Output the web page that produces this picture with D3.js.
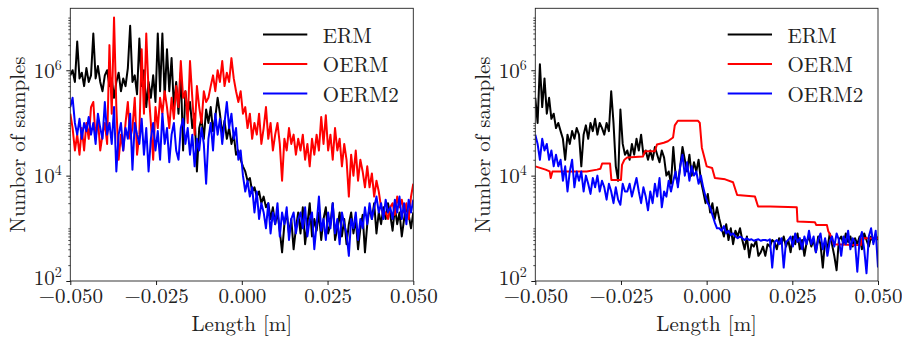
<!DOCTYPE html>
<html><head><meta charset="utf-8">
<script src="https://cdn.jsdelivr.net/npm/d3@7"></script>
<style>body{margin:0;background:#fff}svg{display:block}</style>
</head><body><svg id="c" width="902" height="341"></svg>
<script>
// ---------- data ----------
const binStart = -0.05, binEnd = 0.05, nBins = 150;
const xTicks = [-0.05, -0.025, 0, 0.025, 0.05];
const xTickLabels = ["\u22120.050", "\u22120.025", "0.000", "0.025", "0.050"];
const yMajorTicks = [1e2, 1e4, 1e6];
const seriesNames = ["ERM", "OERM", "OERM2"];
const seriesColors = ["#000000", "#ff0000", "#0000ff"];

const leftERM = [
 8e5,1e6,6e5,3.5e6,7e5,9e5,5e5,1.1e6,6e5,8e5,
 5e6,7e5,1.2e6,6e5,4e5,8e5,1e6,5e5,7e5,3e5,
 6e5,9e5,4e5,7e5,5e5,1.1e6,7e6,6e5,8e5,3.5e5,
 4e6,5e5,1e6,2e5,6e5,3e5,8e5,2.5e5,5e6,4e5,
 5e6,3e5,2.5e6,4e5,1.7e6,2e5,6e5,1.5e5,9e5,3e4,
 4e5,1.5e5,2.5e5,8e4,1.5e5,1.2e4,8e4,1.2e5,5e4,1.8e5,
 1e5,2e5,7e4,1.3e5,3e5,1.5e5,6e4,1.1e5,5e4,8e4,
 4e4,6e4,2.5e4,3e4,2e4,1.5e4,1.2e4,8e3,9e3,5e3,
 6e3,4e3,5e3,3e3,4e3,2.5e3,3e3,1.5e3,2.5e3,1.2e3,
 2e3,900,350,1.2e3,2e3,800,1.5e3,400,1e3,2e3,
 800,2.5e3,500,1.2e3,3e3,700,1.5e3,900,2e3,600,
 1.5e3,2.5e3,800,1.2e3,3e3,600,1e3,2e3,700,1.5e3,
 500,1.2e3,2e3,800,1.5e3,400,1e3,1.8e3,350,1.2e3,
 2.5e3,1.5e3,3e3,800,2e3,1.2e3,2.5e3,1.5e3,3e3,1.8e3,
 900,2.5e3,1.2e3,2e3,700,1.5e3,2.5e3,1.8e3,1e3,2e3
];
const leftOERM = [
 1.5e5,8e4,3e4,6e4,2.5e4,8e4,3e4,1e5,5e4,2e5,
 2.5e5,5e4,1.2e5,3e4,6e4,1e5,4e4,3e6,1.5e5,1e7,
 2e5,2e4,6e4,3e4,1e5,2.5e5,5e4,8e4,3e5,2.5e4,
 6e4,2.5e6,1.5e5,5e6,4e5,1e5,2e4,2e5,8e4,3e5,
 1.5e5,4e5,2e5,8e4,3e5,1.2e5,5e5,2e5,1.5e6,3e5,
 4e5,1e5,1.5e6,3e5,6e4,5e5,2e5,1e5,4e5,2.5e5,
 3e5,5e5,8e5,4e5,1e6,6e5,1.5e6,5e5,9e5,6e5,
 1.7e6,7e5,4e5,2.5e5,4e5,1.5e5,2e5,8e4,1.5e5,5e4,
 1e5,6e4,1.5e5,4e4,8e4,2e5,5e4,1e5,3e4,6e4,
 1e5,4e4,8e3,5e4,3e4,8e4,4e4,6e4,2.5e4,5e4,
 3e4,6e4,2e4,4e4,1.5e4,5e4,2.5e4,6e4,3e4,1.3e5,
 4e4,1.4e5,3e4,6e4,2e4,8e4,3e4,5e4,1.5e4,4e4,
 2e4,4e3,2.5e4,1e4,3e4,8e3,2e4,1.2e4,6e3,1.5e4,
 6e3,1.1e4,4e3,8e3,5e3,2.5e3,1.8e3,2e3,1.5e3,2.5e3,
 3e3,1.8e3,4e3,2.5e3,3.5e3,2e3,3e3,1.5e3,4e3,7e3
];
const leftOERM2 = [
 2e5,3e5,1e5,6e4,1.2e5,5e4,1e5,7e4,1.3e5,6e4,
 1e5,4e4,1.5e5,8e4,5e4,2.5e5,6e4,1e5,4e4,2e5,
 1.2e4,6e4,1e5,3e4,8e4,5e4,1.5e5,1.3e4,1e5,6e4,
 4e4,1.2e5,2.5e4,8e4,1.2e4,5e4,1e5,3e4,7e4,2e4,
 1.5e5,4e4,8e4,1.8e4,6e4,1e5,3e4,2e4,8e4,1.2e5,
 4e4,8e4,2.5e4,6e4,1.5e4,5e4,3e4,8e4,4e4,7e3,
 5e4,1e5,3e4,1.5e5,6e4,1.2e5,4e4,1e5,2.5e5,8e4,
 1.5e5,5e4,8e4,2e4,3e4,1e4,5e3,8e3,4e3,6e3,
 2e3,5e3,1.5e3,3e3,2e3,1e3,3e3,800,2e3,1.2e3,
 3e3,700,2e3,1.2e3,2.5e3,600,1.5e3,2e3,800,1.5e3,
 2e3,1e3,2.5e3,700,1.5e3,2e3,400,1.2e3,4e3,900,
 1.5e3,600,2e3,1e3,3e3,800,1.5e3,500,2e3,1.2e3,
 800,300,1.5e3,1e3,2e3,600,1.5e3,1e3,2.5e3,1.2e3,
 3e3,1.5e3,2.5e3,4e3,2e3,3e3,1.5e3,3.5e3,2e3,2.5e3,
 1.5e3,3.5e3,2e3,4e3,1.5e3,3e3,1.2e3,3.5e3,2e3,3.5e3
];
const rightERM = [
 3e5,1e5,1.3e6,2e5,7e5,1.5e5,3e5,1.2e5,1.5e5,8e4,
 1e5,7e4,5e4,2e4,6e4,4e4,7e4,5e4,8e4,6e4,
 1.5e4,6e4,9e4,5e4,1e5,7e4,1.2e5,6e4,1e5,8e4,
 6e4,1e5,7e4,4e5,1e5,1.5e4,8e3,1.8e5,4e4,2.5e4,
 3e4,2e4,4e4,2.5e4,5e4,3e4,6e4,2.5e4,3e4,2e4,
 3e4,2e4,3.5e4,2.5e4,1.8e4,3e4,2.2e4,1e4,1.2e4,7e3,
 3.5e4,1e4,7e3,1.5e4,3.5e4,2e4,1.2e4,2.5e4,1e4,1.8e4,
 1.2e4,2e4,8e3,5e3,3e3,4.5e3,2e3,3e3,1.5e3,2.5e3,
 1.5e3,1e3,700,1.2e3,600,1e3,500,900,700,1e3,
 600,400,700,280,500,450,600,300,350,450,
 300,500,450,600,550,400,650,500,700,450,
 600,350,700,500,800,400,600,300,550,700,
 450,600,350,700,500,180,600,400,800,500,
 300,160,600,700,500,800,550,700,450,650,
 500,700,400,800,600,450,700,550,750,600
];
const rightOERM2 = [
 6e4,4e4,2e4,5e4,3e4,4e4,2e4,3e4,1.5e4,2.5e4,
 1.5e4,2e4,8e3,1.5e4,5e3,1.2e4,2e4,6e3,1.2e4,8e3,
 1.2e4,5e3,1e4,7e3,4.5e3,9e3,6e3,1e4,5e3,8e3,
 6e3,3.5e3,7e3,5e3,3e3,6e3,3.5e3,2.8e3,7e3,5e3,
 5e3,7e3,4e3,6e3,9e3,5e3,3e3,6e3,4e3,2.2e3,
 5e3,3e3,7e3,4e3,9e3,2.5e3,5e3,4e3,8e3,5e3,
 8e3,1.2e4,6e3,1.5e4,2.5e4,1e4,1.8e4,8e3,1.5e4,1e4,
 1.2e4,7e3,1e4,6e3,4e3,3e3,2.5e3,1.8e3,1.3e3,1e3,
 1e3,900,1.1e3,800,900,750,800,700,650,700,
 650,600,650,600,620,580,600,620,580,600,
 600,580,620,180,550,600,500,650,180,550,
 600,700,450,800,550,650,400,700,500,900,
 500,700,350,600,800,400,650,300,550,700,
 450,800,600,300,700,500,900,400,650,550,
 150,600,850,400,140,700,1e3,500,900,180
];
// right OERM is a step-like curve: explicit positions (m) and counts
const rightOERMx = [-0.0500,-0.0470,-0.0458,-0.0455,-0.0450,-0.0400,-0.0350,-0.0320,-0.0310,-0.0305,
 -0.0282,-0.0278,-0.0250,-0.0247,-0.0240,-0.0232,-0.0186,-0.0180,-0.0151,-0.0145,
 -0.0125,-0.0113,-0.0098,-0.0093,-0.0084,-0.0063,-0.0025,-0.0020,-0.0014,0.0000,
 0.0016,0.0024,0.0054,0.0077,0.0089,0.0141,0.0150,0.0185,0.0263,0.0265,
 0.0316,0.0320,0.0351,0.0355,0.0366,0.0370,0.0433,0.0450,0.0453,0.0500];
const rightOERMy = [1.5e4,1.3e4,1.2e4,9e3,1.2e4,1.2e4,1.2e4,1.3e4,1.35e4,1.7e4,
 1.7e4,8.3e3,8.3e3,1.6e4,2e4,2.2e4,2.3e4,2.9e4,2.9e4,3.9e4,
 4.2e4,4.5e4,5.3e4,9e4,1.1e5,1.1e5,1.1e5,1e5,3.4e4,1.5e4,
 1.4e4,9e3,8.5e3,7.5e3,4.3e3,4e3,2.6e3,2.6e3,2.5e3,1.35e3,
 1.3e3,1.15e3,1.15e3,880,650,500,480,480,650,650];

// ---------- pick an installed serif face (closest to LaTeX's Computer Modern) ----------
function pickFont(cands) {
  const ctx = document.createElement('canvas').getContext('2d');
  const s = 'Number of samples 0.025 OERM2 Wg';
  const base = ['monospace', 'sans-serif'];
  for (const f of cands) {
    for (const b of base) {
      ctx.font = `21px ${b}`; const w0 = ctx.measureText(s).width;
      ctx.font = `21px "${f}", ${b}`; const w1 = ctx.measureText(s).width;
      if (Math.abs(w1 - w0) > 0.5) return `"${f}", serif`;
    }
  }
  return 'serif';
}
const FONT = pickFont(["Latin Modern Roman", "CMU Serif", "Liberation Serif", "Tinos",
  "Times New Roman", "Nimbus Roman", "FreeSerif", "Noto Serif", "DejaVu Serif"]);

// ---------- layout ----------
const plotTop = 8.3, plotBottom = 281;
const binX = d3.range(nBins).map(i => binStart + i * (binEnd - binStart) / (nBins - 1));
const panels = [
  {left: 70.3, right: 413.3, series: [
    {x: binX, y: leftERM}, {x: binX, y: leftOERM}, {x: binX, y: leftOERM2}]},
  {left: 535.3, right: 878, series: [
    {x: binX, y: rightERM}, {x: rightOERMx, y: rightOERMy}, {x: binX, y: rightOERM2}]}
];

const svg = d3.select('#c').style('font-family', FONT);
const y = d3.scaleLog().domain([1e2, 1.5e7]).range([plotBottom, plotTop]);
const minorTicks = [];
for (let d = 2; d <= 7; d++) for (let k = 1; k <= 9; k++) {
  const v = k * Math.pow(10, d);
  if (v <= 1.5e7 && !yMajorTicks.includes(v)) minorTicks.push(v);
}

panels.forEach((p, pi) => {
  const x = d3.scaleLinear().domain([binStart, binEnd]).range([p.left, p.right]);
  const g = svg.append('g');
  const clipId = 'clip' + pi;
  svg.append('clipPath').attr('id', clipId).append('rect')
    .attr('x', p.left).attr('y', plotTop).attr('width', p.right - p.left).attr('height', plotBottom - plotTop);

  const line = d3.line().x(d => x(d[0])).y(d => y(d[1]));
  p.series.forEach((s, si) => {
    g.append('path')
      .datum(s.x.map((xv, i) => [xv, s.y[i]]))
      .attr('clip-path', `url(#${clipId})`)
      .attr('fill', 'none').attr('stroke', seriesColors[si])
      .attr('stroke-width', 2).attr('stroke-linejoin', 'round')
      .attr('d', line);
  });

  // frame
  g.append('rect').attr('x', p.left).attr('y', plotTop)
    .attr('width', p.right - p.left).attr('height', plotBottom - plotTop)
    .attr('fill', 'none').attr('stroke', '#222').attr('stroke-width', 0.9);

  // x axis
  const gx = g.append('g').attr('transform', `translate(0,${plotBottom})`)
    .call(d3.axisBottom(x).tickValues(xTicks).tickSize(4).tickFormat((d, i) => xTickLabels[i]));
  gx.select('.domain').remove();
  gx.attr('font-size', 21).attr('font-family', FONT);
  gx.selectAll('line').attr('stroke', '#000').attr('stroke-width', 0.9);
  gx.selectAll('text').attr('y', 22).attr('dy', null).attr('fill', '#222');

  // y minor ticks
  const gm = g.append('g').attr('transform', `translate(${p.left},0)`)
    .call(d3.axisLeft(y).tickValues(minorTicks).tickSize(2).tickFormat(''));
  gm.select('.domain').remove();
  gm.selectAll('line').attr('stroke', '#000').attr('stroke-width', 0.7);

  // y major ticks
  const gy = g.append('g').attr('transform', `translate(${p.left},0)`)
    .call(d3.axisLeft(y).tickValues(yMajorTicks).tickSize(4).tickFormat(() => '10'));
  gy.select('.domain').remove();
  gy.attr('font-size', 21).attr('font-family', FONT);
  gy.selectAll('line').attr('stroke', '#000').attr('stroke-width', 0.9);
  gy.selectAll('text').attr('x', -8.5).attr('y', d => d === 1e2 ? 3 : 7).attr('dy', null).attr('fill', '#222')
    .each(function(d) {
      d3.select(this).append('tspan').attr('dy', -8).attr('font-size', 14)
        .text(Math.round(Math.log10(d)));
    });

  // axis labels
  g.append('text').attr('x', (p.left + p.right) / 2).attr('y', 331)
    .attr('text-anchor', 'middle').attr('font-size', 21).attr('fill', '#222')
    .text('Length [m]');
  g.append('text').attr('transform', `translate(${p.left - 45},${(plotTop + plotBottom) / 2}) rotate(-90)`)
    .attr('text-anchor', 'middle').attr('font-size', 21).attr('fill', '#222')
    .text('Number of samples');

  // legend
  const rows = [34.5, 64, 93.5];
  seriesNames.forEach((n, i) => {
    g.append('line').attr('x1', p.right - 150.3).attr('x2', p.right - 106)
      .attr('y1', rows[i]).attr('y2', rows[i])
      .attr('stroke', seriesColors[i]).attr('stroke-width', 2);
    g.append('text').attr('x', p.right - 90.5).attr('y', rows[i] + 8)
      .attr('font-size', 21).attr('fill', '#222').text(n);
  });
});
</script>
</body></html>
